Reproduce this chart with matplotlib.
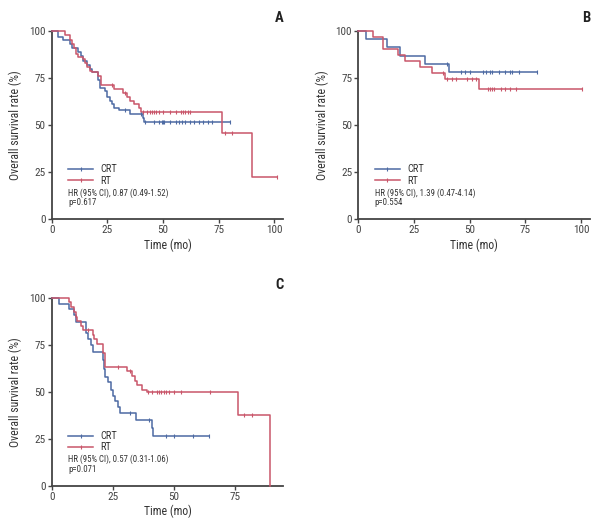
import numpy as np
import matplotlib
matplotlib.use("Agg")
import matplotlib.pyplot as plt
from matplotlib.lines import Line2D

plt.rcParams['font.family'] = ['Roboto Condensed', 'Archivo Narrow', 'Barlow Semi Condensed',
                               'Liberation Sans', 'DejaVu Sans']

BLUE = '#4d6aa3'
RED = '#c9566a'

# Panel A
A_CRT_t = [0, 3, 5, 8, 9, 12, 13, 14, 16, 17, 18, 21, 21.5, 24, 25, 26, 27, 28, 30, 35, 41, 41.5]
A_CRT_s = [100, 97, 95, 93, 91, 89, 87, 84, 82, 80, 78, 74, 70, 68, 65, 63, 61, 59, 58, 56, 54, 51.5]
A_CRT_c = [33, 40, 42, 46, 48, 49.5, 50, 50.5, 53, 56, 57, 58.5, 60, 62, 64, 66, 68, 70, 72, 80]
A_RT_t = [0, 6, 8, 9, 10, 11, 12, 14, 15, 16, 17, 18, 21, 22, 28, 32, 34, 35, 37, 39, 40, 76.5, 90]
A_RT_s = [100, 98, 95, 93, 91, 88, 86, 85, 83, 81, 79, 78, 76, 71.5, 69, 67, 65, 63, 61, 59, 57, 45.6, 22.7]
A_RT_c = [27, 33, 41, 43, 44, 45, 46, 47, 48, 50, 53, 56, 58, 59, 60, 61, 62, 78, 81, 101]

# Panel B
B_CRT_t = [0, 3.5, 13, 18.5, 30, 40.5]
B_CRT_s = [100, 95.6, 91.3, 87, 82.6, 78.3]
B_CRT_c = [40, 46, 48, 50, 56, 57.5, 59, 60, 63, 66, 68, 69, 72, 80]
B_RT_t = [0, 6.5, 11, 18, 21, 27.5, 33, 39, 54]
B_RT_s = [100, 97, 90.6, 87.4, 84.2, 80.9, 77.7, 74.5, 69.3]
B_RT_c = [38, 40, 42, 44, 49, 51, 53, 58, 59, 60, 61, 64, 66, 68, 71, 100.5]

# Panel C
C_CRT_t = [0, 3, 7, 9, 10, 14, 15, 16, 17, 21, 21.5, 22, 23, 24.5, 25, 26, 27, 28, 34.5, 41, 41.5]
C_CRT_s = [100, 96.9, 93.8, 90.6, 86.9, 81, 78, 75, 71, 67, 62, 58, 55, 51, 48, 45, 42, 38.7, 35.2, 31, 26.4]
C_CRT_c = [32, 40, 47, 50, 58, 64.5]
C_RT_t = [0, 7, 8, 9, 10, 10.5, 12, 13, 17, 17.5, 18.5, 21, 22, 31, 33, 34, 35, 37, 39, 76.5, 89.5]
C_RT_s = [100, 97.5, 95, 92.5, 90, 87.5, 85, 82.9, 80, 78, 75.6, 70.7, 63.4, 61, 58.5, 56, 53.6, 51, 50, 37.5, 0]
C_RT_c = [15, 27, 32, 39.5, 41, 43, 44, 45, 46, 47, 48, 50, 53, 65, 79, 82]

panels = [
    dict(rect=[0.0845, 0.584, 0.3785, 0.357], xmax=104, xticks=[0, 25, 50, 75, 100], label='A',
         crt=(A_CRT_t, A_CRT_s, A_CRT_c), rt=(A_RT_t, A_RT_s, A_RT_c),
         hr='HR (95% CI), 0.87 (0.49-1.52)', p='p=0.617'),
    dict(rect=[0.5855, 0.584, 0.3785, 0.357], xmax=104, xticks=[0, 25, 50, 75, 100], label='B',
         crt=(B_CRT_t, B_CRT_s, B_CRT_c), rt=(B_RT_t, B_RT_s, B_RT_c),
         hr='HR (95% CI), 1.39 (0.47-4.14)', p='p=0.554'),
    dict(rect=[0.0845, 0.0778, 0.3785, 0.3573], xmax=95, xticks=[0, 25, 50, 75], label='C',
         crt=(C_CRT_t, C_CRT_s, C_CRT_c), rt=(C_RT_t, C_RT_s, C_RT_c),
         hr='HR (95% CI), 0.57 (0.31-1.06)', p='p=0.071'),
]


def km(ax, t, s, c, color, end):
    t = list(t); s = list(s)
    tt = t + [end]
    ss = s + [s[-1]]
    ax.step(tt, ss, where='post', color=color, lw=1.1, clip_on=False, zorder=3)
    t_arr = np.array(t); s_arr = np.array(s)
    cy = [s_arr[np.searchsorted(t_arr, ci, side='right') - 1] for ci in c]
    ax.plot(c, cy, ls='none', marker='|', ms=3.5, mew=0.8, color=color, clip_on=False, zorder=4)


fig = plt.figure(figsize=(6.12, 5.27), dpi=100)
for p in panels:
    ax = fig.add_axes(p['rect'])
    crt_t, crt_s, crt_c = p['crt']
    rt_t, rt_s, rt_c = p['rt']
    crt_end = max(max(crt_t), max(crt_c))
    rt_end = max(max(rt_t), max(rt_c))
    if rt_s[-1] == 0:
        rt_end = rt_t[-1]
    km(ax, crt_t, crt_s, crt_c, BLUE, crt_end)
    km(ax, rt_t, rt_s, rt_c, RED, rt_end)
    ax.set_xlim(0, p['xmax'])
    ax.set_ylim(0, 100)
    ax.set_xticks(p['xticks'])
    ax.set_yticks([0, 25, 50, 75, 100])
    for sp in ['top', 'right']:
        ax.spines[sp].set_visible(False)
    for sp in ['left', 'bottom']:
        ax.spines[sp].set_color('#444444')
        ax.spines[sp].set_linewidth(1.3)
    ax.tick_params(direction='out', length=3, width=1, colors='#444444', labelsize=8, pad=1.5)
    ax.set_xlabel('Time (mo)', fontsize=8.5, color='#333333', labelpad=2)
    ax.set_ylabel('Overall survival rate (%)', fontsize=8.5, color='#333333', labelpad=5)
    handles = [Line2D([], [], color=BLUE, lw=1.1, marker='|', ms=3.5, mew=0.8),
               Line2D([], [], color=RED, lw=1.1, marker='|', ms=3.5, mew=0.8)]
    leg = ax.legend(handles, ['CRT', 'RT'], loc='center left', bbox_to_anchor=(0.04, 0.235),
                    frameon=False, fontsize=7.5, handlelength=2.4, labelspacing=0.1,
                    handletextpad=0.7, borderpad=0.2, markerfirst=True)
    for txt in leg.get_texts():
        txt.set_color('#333333')
    ax.text(0.07, 0.14, p['hr'], transform=ax.transAxes, fontsize=6.3, color='#333333', va='center')
    ax.text(0.07, 0.09, p['p'], transform=ax.transAxes, fontsize=6.3, color='#333333', va='center')
    ax.text(1.0, 1.07, p['label'], transform=ax.transAxes, fontsize=10.5, fontweight='bold',
            ha='right', va='center', color='#222222')

fig.savefig('out.png', dpi=100)
